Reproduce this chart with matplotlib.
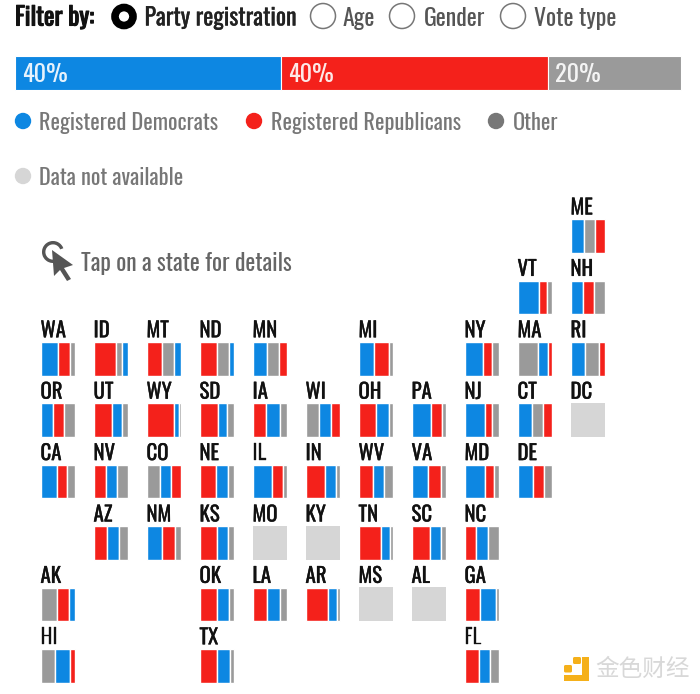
import matplotlib
matplotlib.use("Agg")
import matplotlib.pyplot as plt
import matplotlib.patheffects as pe
from matplotlib.patches import Circle, Polygon, Wedge, FancyBboxPatch

plt.rcParams['font.family'] = ['Oswald', 'Archivo Narrow', 'DejaVu Sans']

BLUE, RED, GREY, NA = '#0d87e2', '#f4211b', '#9a9a9a', '#d6d6d6'
COLORS = {'D': BLUE, 'R': RED, 'O': GREY}

# national split
national_labels = ['40%', '40%', '20%']
national_values = [40, 40, 20]
national_keys = ['D', 'R', 'O']

states = ['ME','VT','NH','WA','ID','MT','ND','MN','MI','NY','MA','RI',
          'OR','UT','WY','SD','IA','WI','OH','PA','NJ','CT','DC',
          'CA','NV','CO','NE','IL','IN','WV','VA','MD','DE',
          'AZ','NM','KS','MO','KY','TN','SC','NC',
          'AK','OK','LA','AR','MS','AL','GA','HI','TX','FL']
dem = [40,63,36,52,15,19,12,42,46,54,31,42,
       38,30,15,27,40,35,41,56,60,42,None,
       49,33,30,36,57,34,32,48,59,46,
       34,46,34,None,None,28,35,33,
       17,36,37,28,None,None,46,43,37,33]
rep = [29,23,33,35,66,46,51,21,43,27,10,15,
       32,53,82,55,41,25,50,34,21,25,None,
       30,37,29,48,33,56,43,40,27,33,
       41,38,50,None,None,66,53,35,
       35,50,44,66,None,None,47,13,52,43]
oth = [31,14,31,13,19,35,37,37,11,19,59,41,
       30,17,3,18,19,40,9,10,19,33,None,
       21,30,41,16,10,10,25,12,14,21,
       25,16,16,None,None,6,12,32,
       48,14,19,6,None,None,7,44,11,24]

# tile-grid layout (column, row)
grid_col = [10,9,10,0,1,2,3,4,6,8,9,10,
            0,1,2,3,4,5,6,7,8,9,10,
            0,1,2,3,4,5,6,7,8,9,
            1,2,3,4,5,6,7,8,
            0,3,4,5,6,7,8,0,3,8]
grid_row = [0,1,1,2,2,2,2,2,2,2,2,2,
            3,3,3,3,3,3,3,3,3,3,3,
            4,4,4,4,4,4,4,4,4,4,
            5,5,5,5,5,5,5,5,
            6,6,6,6,6,6,6,7,7,7]

legend_labels = ['Registered Democrats', 'Registered Republicans', 'Other', 'Data not available']

fig = plt.figure(figsize=(7.0, 6.94), dpi=100)
ax = fig.add_axes([0, 0, 1, 1])
ax.set_xlim(0, 700)
ax.set_ylim(694, 0)
ax.axis('off')

DARK = '#111111'
def embolden(color, w):
    return [pe.withStroke(linewidth=w, foreground=color)]

# filter row
ax.text(15, 17.5, 'Filter by:', fontsize=18, color=DARK, va='center',
        path_effects=embolden(DARK, 0.8))
ax.add_patch(Circle((124, 16.5), 9, fc='white', ec='black', lw=5.5))
ax.text(144.5, 18, 'Party registration', fontsize=17.2, color='#222222', va='center',
        path_effects=embolden('#222222', 0.2))
for cx, tx, lab in [(323, 343, 'Age'), (402, 424, 'Gender'), (513, 534, 'Vote type')]:
    ax.add_patch(Circle((cx, 16), 12.5, fc='white', ec='#777777', lw=1.1))
    ax.text(tx, 18, lab, fontsize=17.2, color='#555555', va='center')

# national bar
x0, scale = 15, 6.66
left = 0
for v, k, lab in zip(national_values, national_keys, national_labels):
    ax.barh(72.5, v * scale, left=x0 + left * scale, height=34, color=COLORS[k],
            edgecolor='white', linewidth=0.8)
    ax.text(x0 + left * scale + 7, 74, lab, fontsize=17.5, color='white', va='center', alpha=0.9)
    left += v

# legend
for cx, cy, c, tx, lab in [(23, 121, BLUE, 39, legend_labels[0]),
                           (254, 121, RED, 271, legend_labels[1]),
                           (496, 121, '#777777', 513, legend_labels[2]),
                           (23, 176, NA, 39, legend_labels[3])]:
    ax.add_patch(Circle((cx, cy), 8.2, fc=c, ec='none'))
    ax.text(tx, cy + 2, lab, fontsize=16.1, color='#777777', va='center')

# hint with cursor icon
ax.add_patch(Wedge((53, 252), 11, 60, 340, width=3.4, fc='#555555', ec='none'))
ax.add_patch(Polygon([(52, 250), (73, 265), (64, 268), (71, 279), (67, 281), (60, 270), (54, 276)],
                     closed=True, fc='#555555', ec='none'))
ax.text(81, 263, 'Tap on a state for details', fontsize=17, color='#666666', va='center')

# tiles
COL_X0, COL_DX, ROW_Y0, ROW_DY, SIZE = 40.5, 53.0, 219.5, 61.4, 33
for s, d, r, o, c_i, r_i in zip(states, dem, rep, oth, grid_col, grid_row):
    x = COL_X0 + c_i * COL_DX
    y = ROW_Y0 + r_i * ROW_DY
    ax.text(x, y - 12, s, fontsize=15, color=DARK, va='center', ha='left',
            path_effects=embolden(DARK, 0.25))
    if d is None:
        ax.barh(y + SIZE / 2, SIZE + 1, left=x, height=SIZE + 1, color=NA, edgecolor='none')
        continue
    parts = sorted([(d, 'D'), (r, 'R'), (o, 'O')], key=lambda p: -p[0])
    pos = 0
    total = d + r + o
    for v, k in parts:
        w = v / total * (SIZE + 1)
        ax.barh(y + SIZE / 2, w, left=x + pos, height=SIZE + 0.5, color=COLORS[k],
                edgecolor='white', linewidth=1.0)
        pos += w

# watermark
GOLD = '#f5b01a'
ax.add_patch(FancyBboxPatch((564, 665), 8, 7.5, boxstyle='round,pad=0,rounding_size=1.5', fc=GOLD, ec='none'))
ax.add_patch(FancyBboxPatch((573, 657), 8, 7, boxstyle='round,pad=0,rounding_size=1.5', fc=GOLD, ec='none'))
ax.add_patch(Polygon([(582, 657), (589, 657), (589, 681), (564, 681), (564, 675), (582, 675)],
                     closed=True, fc=GOLD, ec='none'))
ax.text(595, 669, '金色财经', fontsize=17, color='#d8d8d8', va='center',
        family=['Noto Sans CJK SC', 'DejaVu Sans'])

fig.savefig('out.png', dpi=100, facecolor='white')
